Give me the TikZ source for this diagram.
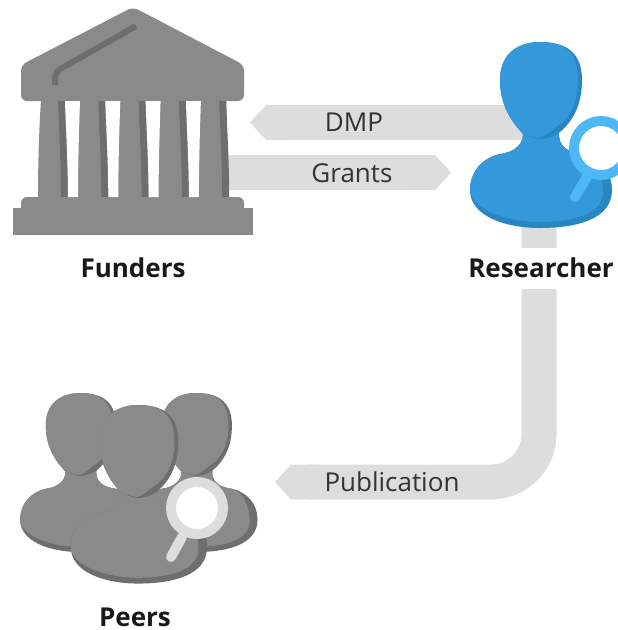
\documentclass[tikz,border=0pt]{standalone}
\usepackage{fontspec}
\setmainfont{Open Sans}
\usetikzlibrary{arrows.meta}

\definecolor{bandgray}{HTML}{DDDDDD}
\definecolor{icongray}{HTML}{8A8A8A}
\definecolor{icondark}{HTML}{6E6E6E}
\definecolor{personblue}{HTML}{3498DB}
\definecolor{persondark}{HTML}{2A86C0}
\definecolor{lensblue}{HTML}{4DB8F5}

\tikzset{
  flowband/.style={draw=bandgray, line width=35pt, -{Triangle Cap[length=16pt]}},
  actorlabel/.style={font=\fontsize{26}{30}\selectfont\bfseries, text=black!90, inner sep=0pt},
  flowlabel/.style={font=\fontsize{26}{30}\selectfont, text=black!80, inner sep=0pt},
}

% silhouette with shading: #1 place, #2 scale, #3 light, #4 dark
\newcommand{\personicon}[4]{
  \begin{scope}[shift={#1}, scale=#2]
    \fill[#4] (-17,90) .. controls (-16,102) and (-25,110) .. (-40,112)
      .. controls (-58,116) and (-70,130) .. (-70,148)
      .. controls (-70,174) and (-35,186) .. (0,186)
      .. controls (35,186) and (72,178) .. (72,148)
      .. controls (72,130) and (60,116) .. (42,112)
      .. controls (28,110) and (18,105) .. (19,90) -- cycle;
    \fill[#3] (-17,90) .. controls (-16,102) and (-25,110) .. (-40,112)
      .. controls (-58,116) and (-70,130) .. (-70,148)
      .. controls (-70,166) and (-35,180) .. (0,180)
      .. controls (32,180) and (63,172) .. (63,150)
      .. controls (62,130) and (55,116) .. (42,112)
      .. controls (28,110) and (18,105) .. (19,90) -- cycle;
    \fill[#4] (0,0) .. controls (28,0) and (42,12) .. (42,38)
      .. controls (42,64) and (32,80) .. (20,90)
      .. controls (12,96) and (4,97) .. (-2,97) -- (-17,92)
      .. controls (-28,80) and (-40,64) .. (-40,38)
      .. controls (-40,10) and (-20,0) .. (0,0) -- cycle;
    \fill[#3] (0,0) .. controls (24,0) and (38,10) .. (38,38)
      .. controls (38,62) and (28,78) .. (16,85)
      .. controls (10,90) and (4,95) .. (-2,96) -- (-17,92)
      .. controls (-28,80) and (-40,64) .. (-40,38)
      .. controls (-40,10) and (-20,0) .. (0,0) -- cycle;
  \end{scope}
}

\begin{document}
\begin{tikzpicture}[x=1pt, y=-1pt]
  \useasboundingbox (0,0) rectangle (618,630);

  \coordinate (dmpstart) at (525,122.5);
  \coordinate (dmpend) at (250,122.5);
  \coordinate (grantstart) at (225,172.5);
  \coordinate (grantend) at (451,172.5);
  \coordinate (pubstart) at (539,225);
  \coordinate (pubbend) at (539,482);
  \coordinate (pubend) at (275,482);

  \draw[flowband] (dmpstart) -- (dmpend);
  \draw[flowband] (grantstart) -- (grantend);
  \draw[flowband, rounded corners=48pt] (pubstart) -- (pubbend) -- (pubend);

  % temple
  \fill[icongray, rounded corners=6pt] (133,7) -- (244,65) -- (244,101) -- (21,101) -- (21,65) -- cycle;
  \fill[icongray] (41,100) .. controls (39,130) and (38,165) .. (38,198) -- (228,198)
    .. controls (228,165) and (227,130) .. (226,100) -- cycle;
  \fill[icongray, rounded corners=6pt] (21,215) -- (21,197) -- (244,197) -- (244,215) -- cycle;
  \fill[icongray] (13,208) rectangle (253,235);
  \foreach \i in {0,...,4} {
    \fill[icondark, xshift=\i*40.3] (58,101) .. controls (59,130) and (61,165) .. (61,197) -- (68,197)
      .. controls (68,165) and (66,130) .. (65,101) -- cycle;
  }
  \foreach \i in {0,...,3} {
    \fill[white, xshift=\i*40.3] (65,101) .. controls (66,130) and (68,165) .. (68,197) -- (78,197)
      .. controls (78,165) and (79,130) .. (80,101) -- cycle;
  }
  \draw[icondark, line width=6pt, rounded corners=6pt] (136,26) -- (55,72) -- (55,85);

  % researcher
  \personicon{(540,42)}{1}{personblue}{persondark}
  \draw[lensblue, line width=10pt, line cap=round] (587,177) -- (575,197);
  \draw[lensblue, fill=white, line width=10pt] (601,148) circle (27);

  % peers
  \personicon{(80,393)}{.855}{icongray}{icondark}
  \personicon{(196,393)}{.855}{icongray}{icondark}
  \personicon{(138,405)}{.96}{icongray}{icondark}
  \draw[bandgray, line width=10pt, line cap=round] (182,537) -- (171,557);
  \draw[bandgray, fill=white, line width=10pt] (197,508) circle (26);

  \node[actorlabel] (funders) at (133,268) {Funders};
  \node[actorlabel, fill=white, minimum height=41pt] (researcher) at (541,268) {Researcher};
  \node[actorlabel] (peers) at (135,617) {Peers};
  \node[flowlabel] (dmp) at (354,122) {DMP};
  \node[flowlabel] (grants) at (352,173) {Grants};
  \node[flowlabel] (publication) at (392,482) {Publication};
\end{tikzpicture}
\end{document}
